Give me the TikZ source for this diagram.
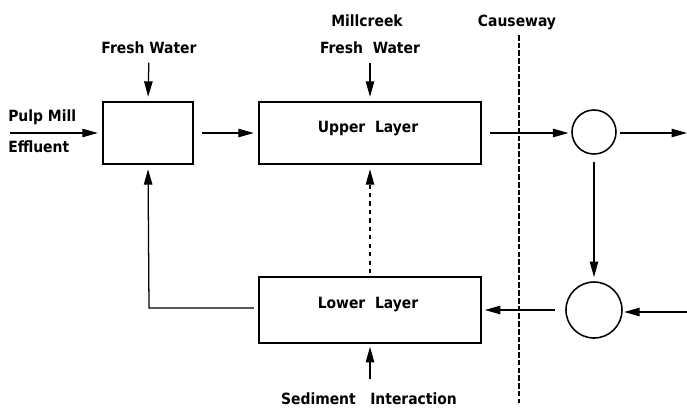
\documentclass[tikz,border=0pt]{standalone}
\usepackage{fontspec}
\setmainfont{DejaVu Sans Condensed}
\usetikzlibrary{arrows.meta}
\tikzset{
  label text/.style={font=\bfseries\fontsize{11}{13}\selectfont,inner sep=0pt},
  layer box/.style={draw,line width=1.4pt,inner sep=0pt,font=\bfseries\fontsize{11}{13}\selectfont},
  mixer/.style={draw,circle,line width=1.1pt,inner sep=0pt},
  flow/.style={-{Triangle[length=11pt,width=6pt]},line width=0.9pt}
}
\begin{document}
\begin{tikzpicture}[x=0.025cm,y=-0.025cm]
  \useasboundingbox (0,0) rectangle (687,410);
  % boxes and mixing points
  \draw
    (148,133) node[layer box,minimum width=2.25cm,minimum height=1.55cm] (mix){}
    (370,133) node[layer box,minimum width=5.55cm,minimum height=1.55cm] (upper){}
    (370,310) node[layer box,minimum width=5.55cm,minimum height=1.65cm] (lower){}
    (594,132) node[mixer,minimum size=1.1cm] (c1){}
    (594,310) node[mixer,minimum size=1.4cm] (c2){};
  \node[label text] (ul) at (368,129) {Upper\ \ Layer};
  \node[label text] (ll) at (368,305) {Lower\ \ Layer};
  % labels
  \node[label text] (fw1) at (149,48) {Fresh\ Water};
  \node[label text] (mc) at (367,21) {Millcreek};
  \node[label text] (fw2) at (370,48) {Fresh\ \ Water};
  \node[label text] (cw) at (517,22) {Causeway};
  \node[label text,anchor=west] (pm) at (8,117) {Pulp\ Mill};
  \node[label text,anchor=west] (ef) at (8,147) {Effluent};
  \node[label text] (sed) at (369,399) {Sediment\ \ \ Interaction};
  % free ends
  \coordinate (pin) at (10,133);
  \coordinate (out) at (687,133);
  \coordinate (in) at (687,312);
  \coordinate (bend) at (149,308);
  \coordinate (sedin) at (370,379);
  \coordinate (ctop) at (519,35);
  \coordinate (cbot) at (519,403);
  % causeway
  \draw[dashed,dash pattern=on 4pt off 1.5pt,line width=0.9pt] (ctop) -- (cbot);
  % flows
  \begin{scope}[flow]
    \draw[shorten >=3pt] (pin) -- (mix.west);
    \draw[shorten <=6pt,shorten >=3pt] (fw1.south) -- (mix.north);
    \draw[shorten <=6pt,shorten >=3pt] (mix.east) -- (upper.west);
    \draw[shorten <=6pt,shorten >=3pt] (fw2.south) -- (upper.north);
    \draw[shorten <=6pt,shorten >=2pt] (upper.east) -- (c1.west |- upper.east);
    \draw[shorten <=2pt] (c1.east |- upper.east) -- (out);
    \draw[shorten <=5pt,shorten >=3pt] (c1.south) -- (c2.north);
    \draw[shorten >=1pt] (in) -- (c2.east |- in);
    \draw[shorten <=7pt,shorten >=2pt] (c2.west |- lower.east) -- (lower.east);
    \draw[shorten >=3pt] ([xshift=-3pt]lower.west |- bend) -- (bend) -- (mix.south);
    \draw[dashed,shorten >=3pt,shorten <=2pt] (lower.north) -- (upper.south);
    \draw[shorten >=2pt] (sedin) -- (lower.south);
  \end{scope}
\end{tikzpicture}
\end{document}
